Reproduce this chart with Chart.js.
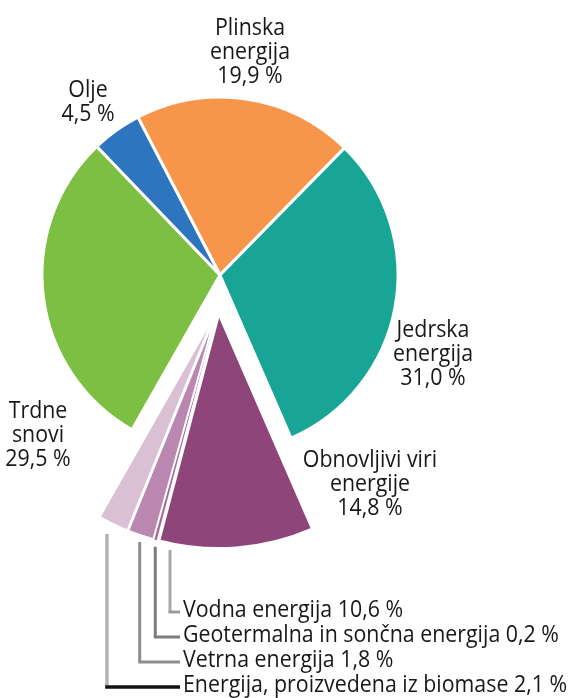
<!DOCTYPE html>
<html>
<head>
<meta charset="utf-8">
<script src="https://cdn.jsdelivr.net/npm/chart.js@4.4.1/dist/chart.umd.min.js"></script>
<style>
  html, body { margin: 0; padding: 0; background: #ffffff; }
  #wrap { position: relative; width: 571px; height: 698px; }
</style>
</head>
<body>
<div id="wrap"><canvas id="c" width="571" height="698"></canvas></div>
<script>
// ---- data ----
const categories = [
  'Plinska energija',
  'Jedrska energija',
  'Vodna energija',
  'Geotermalna in sončna energija',
  'Vetrna energija',
  'Energija, proizvedena iz biomase',
  'Trdne snovi',
  'Olje'
];
const values = [19.9, 31.0, 10.6, 0.2, 1.8, 2.1, 29.5, 4.5];
const renewable = [false, false, true, true, true, true, false, false];
const renewableLabel = ['Obnovljivi viri', 'energije'];
const renewableTotal = 14.8;
// multi-line labels for the main slices (text lines before the value)
const mainLabelLines = {
  0: ['Plinska', 'energija'],
  1: ['Jedrska', 'energija'],
  6: ['Trdne', 'snovi'],
  7: ['Olje']
};
const colors = ['#F7964B', '#18A595', '#8E467A', '#A66A98', '#B987AF', '#DAC0D5', '#7DBF42', '#2E75C0'];

function fmt(v) { return v.toFixed(1).replace('.', ',') + ' %'; }

// ---- layout / style constants ----
const FONT = '500 24px "Open Sans", "Noto Sans", sans-serif';
const SX = 0.89;          // horizontal text compression
const TEXT_COLOR = '#1a1718';
const LINE_H = 24;
const mainLabelPos = { 0: [250, 28], 1: [433, 330], 6: [38, 411], 7: [88, 90] };
const renewLabelPos = [370, 460];
const leaderLabelX = 183;
const leaderLabelY0 = 610;
const leaderLabelStep = 25;
const leaders = {   // slice index -> [angle fraction within slice, vertical color, horizontal color, width, gap]
  2: [0.93, '#a9a9a9', '#9a9a9a', 3, 7],
  3: [0.5, '#7d7d7d', '#7d7d7d', 3, 7],
  4: [0.54, '#8c8c8c', '#8c8c8c', 3, 7],
  5: [0.73, '#b3b3b3', '#111111', 3.5, 13]
};

function drawText(ctx, t, x, y, align) {
  ctx.save();
  ctx.translate(x, y);
  ctx.scale(SX, 1);
  ctx.textAlign = align;
  ctx.fillText(t, 0, 0);
  ctx.restore();
}

const explodePlugin = {
  id: 'explodeGroup',
  afterDatasetUpdate(chart, args, opts) {
    const els = chart.getDatasetMeta(args.index).data;
    const idx = els.map((e, i) => i).filter(i => renewable[i]);
    if (!idx.length) return;
    const gm = (els[idx[0]].startAngle + els[idx[idx.length - 1]].endAngle) / 2;
    idx.forEach(i => {
      const el = els[i];
      const m = (el.startAngle + el.endAngle) / 2;
      el.x += Math.cos(gm) * opts.groupShift + Math.cos(m) * opts.itemShift;
      el.y += Math.sin(gm) * opts.groupShift + Math.sin(m) * opts.itemShift;
      el.outerRadius *= opts.radiusScale;
    });
  }
};

const labelPlugin = {
  id: 'sliceLabels',
  afterDatasetsDraw(chart) {
    const ctx = chart.ctx;
    const els = chart.getDatasetMeta(0).data;
    ctx.save();
    ctx.font = FONT;
    ctx.fillStyle = TEXT_COLOR;
    ctx.textBaseline = 'middle';
    // main slice labels
    Object.keys(mainLabelLines).forEach(k => {
      const i = +k;
      const lines = mainLabelLines[i].concat([fmt(values[i])]);
      const [x, y] = mainLabelPos[i];
      lines.forEach((t, j) => drawText(ctx, t, x, y + j * LINE_H, 'center'));
    });
    // renewables group label
    renewableLabel.concat([fmt(renewableTotal)]).forEach((t, j) =>
      drawText(ctx, t, renewLabelPos[0], renewLabelPos[1] + j * LINE_H, 'center'));
    // leader lines + labels
    Object.keys(leaders).forEach((k, row) => {
      const i = +k;
      const el = els[i];
      const [frac, vc, hc, w, gap] = leaders[i];
      const a = el.startAngle + frac * (el.endAngle - el.startAngle);
      const px = el.x + Math.cos(a) * el.outerRadius;
      const py = el.y + Math.sin(a) * el.outerRadius;
      const ly = leaderLabelY0 + row * leaderLabelStep;
      ctx.lineWidth = w;
      ctx.strokeStyle = vc;
      ctx.beginPath();
      ctx.moveTo(px, py + gap);
      ctx.lineTo(px, ly + 2);
      ctx.stroke();
      ctx.strokeStyle = hc;
      ctx.beginPath();
      ctx.moveTo(px - w / 2, ly + 2);
      ctx.lineTo(leaderLabelX - 3, ly + 2);
      ctx.stroke();
      drawText(ctx, categories[i] + ' ' + fmt(values[i]), leaderLabelX, ly, 'left');
    });
    ctx.restore();
  }
};

new Chart(document.getElementById('c'), {
  type: 'pie',
  data: {
    labels: categories,
    datasets: [{
      data: values,
      backgroundColor: colors,
      borderColor: '#ffffff',
      borderWidth: [3, 3, 2, 0, 2, 2, 3, 3]
    }]
  },
  options: {
    responsive: false,
    animation: false,
    radius: 178,
    rotation: -27.5,
    layout: { padding: { left: 0, right: 131, top: 0, bottom: 148 } },
    plugins: {
      legend: { display: false },
      tooltip: { enabled: false },
      explodeGroup: { groupShift: 32, itemShift: 8, radiusScale: 1.31 }
    }
  },
  plugins: [explodePlugin, labelPlugin]
});
</script>
</body>
</html>
